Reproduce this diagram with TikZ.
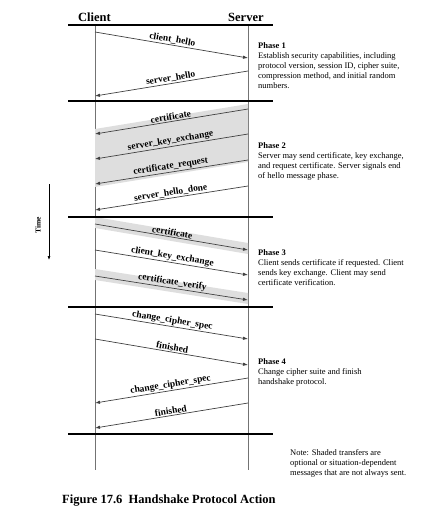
\documentclass[tikz,border=0pt]{standalone}
\usepackage{fontspec}
\setmainfont{Liberation Serif}
\usetikzlibrary{arrows.meta}
\tikzset{
  msg/.style={draw=black!75, line width=0.7pt, -{Latex[length=5pt,width=3.5pt]}},
  lbl/.style={midway, sloped, above, inner sep=1pt, font=\fontsize{9.5}{10}\selectfont\bfseries},
  phase/.style={anchor=north west, inner sep=0pt, align=left, font=\fontsize{8.5}{10}\selectfont},
  bar/.style={line width=1.8pt},
  optional/.style={fill=black!13, draw=none}
}
\begin{document}
\begin{tikzpicture}[x=1pt, y=-1pt]
    \useasboundingbox (0,0) rectangle (435,522);
    \coordinate (client) at (95,0);
    \coordinate (server) at (248,0);
    % headers and lifelines
    \node[anchor=base west, inner sep=0, font=\fontsize{12.5}{14}\selectfont\bfseries] (hc) at (78,21) {Client};
    \node[anchor=base west, inner sep=0, font=\fontsize{12.5}{14}\selectfont\bfseries] (hs) at (228,21) {Server};
    \draw[black!55, line width=0.9pt] (client |- 0,25) -- (client |- 0,470);
    \draw[black!55, line width=0.9pt] (server |- 0,25) -- (server |- 0,470);
    % shaded (optional) transfers
    \fill[optional] (client |- 0,129) -- (server |- 0,104) -- (server |- 0,162) -- (client |- 0,187) -- cycle;
    \fill[optional] (client |- 0,217) -- (server |- 0,243) -- (server |- 0,254) -- (client |- 0,228) -- cycle;
    \fill[optional] (client |- 0,269) -- (server |- 0,293) -- (server |- 0,304) -- (client |- 0,280) -- cycle;
    % phase separators
    \draw[bar] (68,25) -- (273,25);
    \draw[bar] (68,101) -- (273,101);
    \draw[bar] (68,217) -- (273,217);
    \draw[bar] (68,307) -- (273,307);
    \draw[bar] (68,434) -- (273,434);
    % phase 1
    \draw[msg] (client |- 0,32) -- (server |- 0,58) node[lbl] {client\_hello};
    \draw[msg] (server |- 0,71) -- (client |- 0,96) node[lbl] {server\_hello};
    % phase 2
    \draw[msg] (server |- 0,109) -- (client |- 0,134) node[lbl] {certificate};
    \draw[msg] (server |- 0,134) -- (client |- 0,159) node[lbl] {server\_key\_exchange};
    \draw[msg] (server |- 0,160) -- (client |- 0,184) node[lbl] {certificate\_request};
    \draw[msg] (server |- 0,186) -- (client |- 0,210) node[lbl] {server\_hello\_done};
    % phase 3
    \draw[msg] (client |- 0,224) -- (server |- 0,250) node[lbl] {certificate};
    \draw[msg] (client |- 0,250) -- (server |- 0,275) node[lbl] {client\_key\_exchange};
    \draw[msg] (client |- 0,276) -- (server |- 0,300) node[lbl] {certificate\_verify};
    % phase 4
    \draw[msg] (client |- 0,314) -- (server |- 0,339) node[lbl] {change\_cipher\_spec};
    \draw[msg] (client |- 0,339) -- (server |- 0,365) node[lbl] {finished};
    \draw[msg] (server |- 0,378) -- (client |- 0,403) node[lbl] {change\_cipher\_spec};
    \draw[msg] (server |- 0,403) -- (client |- 0,428) node[lbl] {finished};
    % phase descriptions
    \node[phase] (p1) at (258,42) {\textbf{Phase 1}\\Establish security capabilities, including\\protocol version, session ID, cipher suite,\\compression method, and initial random\\numbers.};
    \node[phase] (p2) at (258,142) {\textbf{Phase 2}\\Server may send certificate, key exchange,\\and request certificate. Server signals end\\of hello message phase.};
    \node[phase] (p3) at (258,249) {\textbf{Phase 3}\\Client sends certificate if requested. Client\\sends key exchange. Client may send\\certificate verification.};
    \node[phase] (p4) at (258,358) {\textbf{Phase 4}\\Change cipher suite and finish\\handshake protocol.};
    \node[phase] (note) at (290,449) {Note: Shaded transfers are\\optional or situation-dependent\\messages that are not always sent.};
    % time axis
    \coordinate (t0) at (49,184);
    \coordinate (t1) at (49,260);
    \draw[line width=0.6pt, -{Latex[length=4pt,width=3pt]}] (t0) -- (t1);
    \node[rotate=90, font=\fontsize{7.5}{9}\selectfont\bfseries] (time) at (38,225) {Time};
    % caption
    \node[anchor=base west, inner sep=0, font=\fontsize{12.5}{14}\selectfont\bfseries] (cap) at (62,503) {Figure 17.6\ \ Handshake Protocol Action};
\end{tikzpicture}
\end{document}
